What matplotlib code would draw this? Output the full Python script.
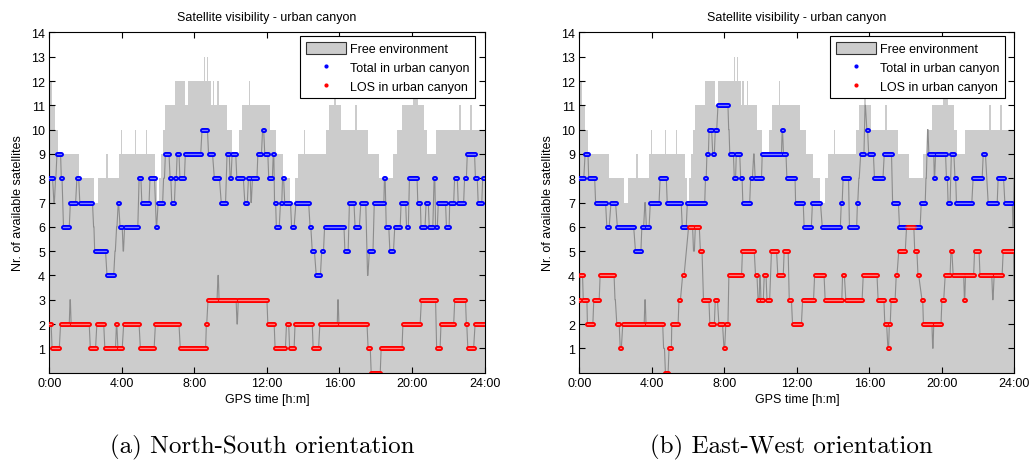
import matplotlib
matplotlib.use("Agg")
import matplotlib.pyplot as plt
from matplotlib.patches import Patch
from matplotlib.lines import Line2D

# ---------------------------------------------------------------------------
# Data (hours of day, number of satellites)
# ---------------------------------------------------------------------------

X_TICKS = [0, 4, 8, 12, 16, 20, 24]
X_LABELS = ["0:00", "4:00", "8:00", "12:00", "16:00", "20:00", "24:00"]
Y_TICKS = list(range(1, 15))

# free environment: step profile (start hour, count)
FREE_T = [0.00, 0.17, 0.32, 0.50, 1.62, 2.48, 2.68, 3.15, 3.22, 3.82, 3.95,
          4.02, 4.72, 4.78, 5.33, 5.38, 5.82, 5.92, 6.05, 6.15, 6.25, 6.40,
          6.95, 7.47, 7.65, 8.55, 8.60, 8.68, 8.76, 8.90, 9.00, 9.07, 9.27,
          9.33, 9.78, 10.05, 10.45, 10.65, 11.00, 11.08, 12.15, 12.50, 12.90,
          13.30, 13.55, 13.70, 14.05, 14.12, 15.25, 15.40, 15.72, 15.80,
          16.10, 16.85, 16.95, 17.60, 18.20, 18.95, 19.20, 19.45, 20.05,
          20.35, 20.65, 20.85, 21.30, 22.60, 22.70, 23.20, 23.30, 24.00]
FREE_V = [12, 11, 10, 9, 8, 7, 8, 9, 8, 9, 10,
          9, 10, 9, 10, 9, 8, 7, 8, 9, 10, 11,
          12, 11, 12, 13, 12, 13, 12, 11, 12, 11, 12,
          11, 10, 9, 10, 11, 12, 11, 10, 9, 8,
          7, 8, 9, 10, 9, 10, 11, 12, 11,
          10, 11, 10, 9, 8, 9, 10, 11, 12,
          11, 10, 9, 10, 11, 10, 11, 10, 10]

# plateaus (start hour, end hour, count)
NS_TOTAL = [
    (0.00, 0.18, 8), (0.25, 0.28, 7), (0.34, 0.36, 8), (0.42, 0.62, 9),
    (0.66, 0.70, 8), (0.78, 1.10, 6), (1.16, 1.45, 7), (1.52, 1.62, 8),
    (1.68, 2.38, 7), (2.44, 2.46, 6), (2.50, 3.10, 5), (3.18, 3.55, 4),
    (3.62, 3.64, 5), (3.71, 3.73, 6), (3.80, 3.82, 7), (3.90, 4.02, 6),
    (4.07, 4.09, 5), (4.15, 4.88, 6), (4.95, 5.05, 8), (5.10, 5.50, 7),
    (5.55, 5.80, 8), (5.90, 5.92, 6), (6.00, 6.25, 7), (6.30, 6.35, 8),
    (6.40, 6.60, 9), (6.66, 6.70, 8), (6.75, 6.90, 7), (6.95, 7.00, 8),
    (7.05, 7.15, 9), (7.20, 7.45, 8), (7.50, 8.35, 9), (8.42, 8.72, 10),
    (8.78, 9.00, 9), (9.10, 9.38, 8), (9.48, 9.72, 7), (9.80, 9.92, 9),
    (9.97, 10.02, 8), (10.08, 10.28, 9), (10.34, 10.70, 8), (10.78, 10.92, 7),
    (10.98, 11.08, 8), (11.12, 11.14, 7), (11.20, 11.45, 8), (11.50, 11.70, 9),
    (11.76, 11.82, 10), (11.88, 12.05, 9), (12.10, 12.30, 8), (12.35, 12.38, 9),
    (12.42, 12.48, 7), (12.52, 12.68, 6), (12.75, 12.82, 7), (12.86, 12.92, 8),
    (12.98, 13.30, 7), (13.36, 13.50, 6), (13.60, 14.30, 7), (14.38, 14.42, 6),
    (14.50, 14.62, 5), (14.72, 14.95, 4), (15.02, 15.12, 5), (15.18, 16.25, 6),
    (16.30, 16.48, 5), (16.55, 16.80, 7), (16.86, 17.10, 6), (17.18, 17.45, 7),
    (17.55, 17.57, 4), (17.65, 17.85, 5), (17.92, 18.45, 7), (18.48, 18.52, 8),
    (18.58, 18.72, 6), (18.78, 18.98, 5), (19.05, 19.35, 6), (19.40, 19.65, 7),
    (19.70, 19.80, 6), (19.86, 20.28, 8), (20.32, 20.46, 7), (20.50, 20.72, 6),
    (20.78, 20.90, 7), (20.95, 21.15, 6), (21.22, 21.26, 8), (21.30, 21.40, 6),
    (21.45, 21.85, 7), (21.90, 22.05, 6), (22.08, 22.30, 7), (22.35, 22.50, 8),
    (22.55, 22.85, 7), (22.90, 23.00, 8), (23.05, 23.45, 9), (23.50, 23.60, 8),
    (23.65, 23.85, 7), (23.90, 24.00, 8),
]

NS_LOS = [
    (0.00, 0.10, 2), (0.15, 0.55, 1), (0.62, 1.10, 2), (1.14, 1.16, 3),
    (1.20, 2.20, 2), (2.26, 2.55, 1), (2.62, 3.00, 2), (3.06, 3.65, 1),
    (3.70, 3.72, 2), (3.78, 4.02, 1), (4.10, 4.95, 2), (5.02, 5.78, 1),
    (5.85, 7.15, 2), (7.22, 8.62, 1), (8.66, 8.68, 2), (8.75, 9.25, 3),
    (9.30, 9.32, 4), (9.36, 10.30, 3), (10.35, 10.37, 2), (10.42, 12.00, 3),
    (12.05, 12.40, 2), (12.45, 13.02, 1), (13.08, 13.20, 2), (13.25, 13.50, 1),
    (13.55, 14.50, 2), (14.55, 14.85, 1), (14.92, 15.88, 2), (15.91, 15.93, 3),
    (15.97, 17.52, 2), (17.58, 17.70, 1), (17.75, 18.25, 0), (18.30, 19.45, 1),
    (19.50, 20.45, 2), (20.52, 21.30, 3), (21.36, 21.55, 1), (21.60, 22.30, 2),
    (22.36, 22.95, 3), (23.00, 23.02, 2), (23.08, 23.40, 1), (23.48, 24.00, 2),
]

EW_TOTAL = [
    (0.00, 0.25, 8), (0.32, 0.48, 9), (0.52, 0.85, 8), (0.90, 1.45, 7),
    (1.52, 1.65, 6), (1.75, 2.00, 7), (2.10, 3.00, 6), (3.10, 3.40, 5),
    (3.45, 3.55, 6), (3.62, 3.64, 7), (3.70, 3.85, 6), (3.92, 4.40, 7),
    (4.46, 4.80, 8), (4.85, 5.62, 7), (5.68, 5.90, 6), (5.96, 6.92, 7),
    (6.96, 7.00, 8), (7.04, 7.12, 9), (7.16, 7.30, 10), (7.36, 7.45, 9),
    (7.50, 7.58, 10), (7.65, 8.20, 11), (8.24, 8.26, 10), (8.30, 8.50, 9),
    (8.55, 8.62, 8), (8.66, 8.85, 9), (8.90, 8.98, 8), (9.02, 9.40, 7),
    (9.45, 9.55, 8), (9.62, 9.64, 9), (9.70, 10.05, 8), (10.09, 11.15, 9),
    (11.19, 11.21, 10), (11.26, 11.40, 9), (11.45, 11.90, 8), (11.93, 12.35, 7),
    (12.40, 12.80, 6), (12.86, 13.30, 7), (13.40, 14.40, 6), (14.45, 14.50, 7),
    (14.55, 14.85, 8), (14.90, 15.30, 6), (15.34, 15.36, 7), (15.42, 15.44, 8),
    (15.52, 15.70, 9), (15.76, 15.78, 11), (15.86, 15.90, 10), (15.96, 16.22, 9),
    (16.28, 16.75, 8), (16.82, 17.22, 9), (17.28, 17.60, 7), (17.66, 18.80, 6),
    (18.86, 19.08, 7), (19.12, 19.14, 8), (19.21, 19.23, 10), (19.28, 19.55, 9),
    (19.58, 19.60, 8), (19.65, 20.20, 9), (20.25, 20.30, 8), (20.34, 20.45, 7),
    (20.52, 20.66, 9), (20.72, 20.76, 8), (20.80, 21.65, 7), (21.72, 22.22, 8),
    (22.28, 22.40, 9), (22.55, 23.05, 7), (23.10, 23.40, 8), (23.47, 23.88, 7),
    (23.92, 23.94, 6), (23.98, 24.00, 8),
]

EW_LOS = [
    (0.00, 0.02, 3), (0.04, 0.18, 4), (0.22, 0.42, 3), (0.45, 0.75, 2),
    (0.80, 1.10, 3), (1.15, 1.92, 4), (1.97, 1.99, 3), (2.07, 2.20, 2),
    (2.26, 2.32, 1), (2.40, 3.58, 2), (3.62, 3.64, 3), (3.68, 4.60, 2),
    (4.65, 4.70, 1), (4.75, 4.90, 0), (4.95, 5.08, 1), (5.10, 5.45, 2),
    (5.50, 5.58, 3), (5.70, 5.78, 4), (6.03, 6.25, 6), (6.30, 6.35, 5),
    (6.40, 6.62, 6), (6.68, 6.77, 5), (6.85, 7.15, 3), (7.20, 7.45, 2),
    (7.50, 7.62, 3), (7.70, 7.90, 2), (7.98, 8.02, 1), (8.08, 8.20, 2),
    (8.25, 8.95, 4), (9.00, 9.65, 5), (9.72, 9.80, 4), (9.86, 9.92, 3),
    (9.96, 9.98, 4), (10.02, 10.15, 3), (10.20, 10.30, 4), (10.35, 10.50, 3),
    (10.60, 10.88, 5), (10.95, 11.25, 4), (11.30, 11.52, 5), (11.58, 11.70, 3),
    (11.76, 12.25, 2), (12.32, 12.92, 3), (12.98, 13.50, 4), (13.56, 14.48, 3),
    (14.52, 14.62, 4), (14.70, 15.60, 3), (15.66, 16.42, 4), (16.48, 16.80, 3),
    (16.85, 16.95, 2), (17.02, 17.06, 1), (17.10, 17.15, 2), (17.20, 17.42, 3),
    (17.48, 17.52, 4), (17.62, 17.98, 5), (18.05, 18.45, 6), (18.50, 18.62, 5),
    (18.68, 18.72, 4), (18.90, 18.94, 3), (18.98, 19.45, 2), (19.49, 19.51, 1),
    (19.55, 19.95, 2), (20.00, 20.10, 3), (20.18, 20.45, 4), (20.50, 20.55, 5),
    (20.62, 21.20, 4), (21.24, 21.26, 3), (21.30, 21.75, 4), (21.80, 22.05, 5),
    (22.10, 22.75, 4), (22.80, 22.82, 3), (22.88, 23.32, 4), (23.38, 23.95, 5),
    (23.98, 24.00, 3),
]

PANELS = [
    ("(a) North-South orientation", NS_TOTAL, NS_LOS),
    ("(b) East-West orientation", EW_TOTAL, EW_LOS),
]

FREE_GREY = "#cccccc"
LINE_GREY = "#8c8c8c"
BLUE = "#0000ff"
RED = "#ff0000"

plt.rcParams["font.family"] = ["Liberation Sans", "DejaVu Sans"]


def draw_series(ax, segs, color, inner):
    xs, ys = [], []
    for s, e, v in segs:
        xs += [s, e]
        ys += [v, v]
    ax.plot(xs, ys, color=LINE_GREY, lw=0.8, zorder=2)
    starts = [s for s, _, _ in segs]
    ends = [e for _, e, _ in segs]
    vals = [v for _, _, v in segs]
    outer = ax.hlines(vals, starts, ends, colors=color, lw=3.6, zorder=3)
    outer.set_capstyle("round")
    core = ax.hlines(vals, starts, ends, colors=inner, lw=0.9, zorder=4)
    core.set_capstyle("round")


fig = plt.figure(figsize=(10.30, 4.64), dpi=100)
lefts = [0.0479, 0.5624]
width = 0.4225

for left, (caption, total, los) in zip(lefts, PANELS):
    ax = fig.add_axes([left, 0.1948, width, 0.7332])
    ax.fill_between(FREE_T, FREE_V, step="post", color=FREE_GREY, lw=0,
                    zorder=1)
    draw_series(ax, total, BLUE, "#8080ff")
    draw_series(ax, los, RED, "#ff8080")

    ax.set_xlim(0, 24)
    ax.set_ylim(0, 14)
    ax.set_xticks(X_TICKS)
    ax.set_xticklabels(X_LABELS)
    ax.set_yticks(Y_TICKS)
    ax.tick_params(direction="in", top=True, right=True, length=4,
                   width=0.8, labelsize=9, pad=3)
    for sp in ax.spines.values():
        sp.set_linewidth(0.8)
    ax.set_title("Satellite visibility - urban canyon", fontsize=9, pad=9)
    ax.set_xlabel("GPS time [h:m]", fontsize=9, labelpad=3)
    ax.set_ylabel("Nr. of available satellites", fontsize=9, labelpad=5)

    handles = [
        Patch(facecolor=FREE_GREY, edgecolor="#333333", lw=0.8),
        Line2D([], [], ls="none", marker=".", color=BLUE, markersize=4),
        Line2D([], [], ls="none", marker=".", color=RED, markersize=4),
    ]
    labels = ["Free environment", "Total in urban canyon",
              "LOS in urban canyon"]
    leg = ax.legend(handles, labels, loc="upper right",
                    bbox_to_anchor=(0.978, 0.989), borderaxespad=0,
                    fontsize=9, fancybox=False, framealpha=1,
                    edgecolor="black", handlelength=3.2, handleheight=1.1,
                    handletextpad=0.3, labelspacing=0.45, borderpad=0.45)
    leg.get_frame().set_linewidth(0.8)

    fig.text(left + width / 2 - 0.005, 0.008, caption, ha="center",
             va="bottom", fontsize=18, family="cmr10")

fig.savefig("out.png", dpi=100)
